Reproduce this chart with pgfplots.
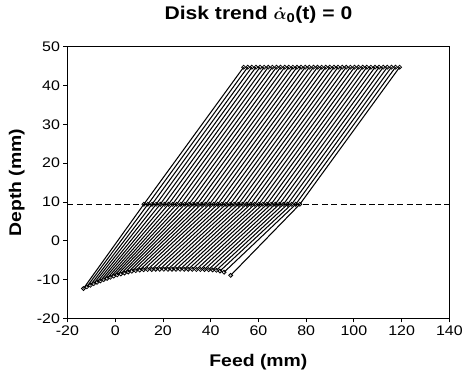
\documentclass[border=0pt]{standalone}
\usepackage{fontspec}
\setmainfont{Liberation Sans}[FakeStretch=1.15]
\usepackage{amsmath}
\usepackage{pgfplots}
\pgfplotsset{compat=1.18}
\begin{document}
\begin{tikzpicture}
\begin{axis}[
  name=ax,
  scale only axis, width=385pt, height=274pt,
  xmin=-20, xmax=140, ymin=-20, ymax=50,
  xtick={-20,0,20,40,60,80,100,120,140},
  ytick={-20,-10,0,10,20,30,40,50},
  tick pos=left, tick align=outside, major tick length=4pt,
  axis line style={line width=0.9pt},
  tick style={black, line width=0.8pt},
  ticklabel style={font=\fontsize{14}{14}\selectfont},
  /pgf/number format/assume math mode=true,
  xlabel={\bfseries Feed (mm)},
  ylabel={\bfseries Depth (mm)},
  xlabel style={font=\fontsize{17}{17}\selectfont, at={(axis description cs:0.5,-0.1606)}, anchor=center},
  ylabel style={font=\fontsize{17}{17}\selectfont, at={(axis description cs:-0.1325,0.5)}, anchor=center},
  title={\bfseries Disk trend $\boldsymbol{\dot{\alpha}}$\textsubscript{0}(t) = 0},
  title style={font=\fontsize{18.5}{18.5}\selectfont, at={(axis description cs:0.5,1.095)}, anchor=center},
  unbounded coords=jump,
]
\addplot[black, line width=1pt, dash pattern=on 6pt off 3.5pt] coordinates {(-20,9.4) (140,9.4)};
\addplot[black, line width=1.05pt, mark=o, mark size=2pt,
  mark options={fill=white, line width=0.8pt, solid}] coordinates {
(-13.3,-12.3) (12.00,9.4) (53.80,44.7) (nan,nan)
(-11.85,-11.85) (13.72,9.4) (55.52,44.7) (nan,nan)
(-10.4,-11.45) (15.44,9.4) (57.24,44.7) (nan,nan)
(-9.0,-11.05) (17.16,9.4) (58.96,44.7) (nan,nan)
(-7.6,-10.7) (18.88,9.4) (60.68,44.7) (nan,nan)
(-6.2,-10.35) (20.60,9.4) (62.40,44.7) (nan,nan)
(-4.8,-10.0) (22.32,9.4) (64.12,44.7) (nan,nan)
(-3.4,-9.7) (24.04,9.4) (65.84,44.7) (nan,nan)
(-2.0,-9.4) (25.76,9.4) (67.56,44.7) (nan,nan)
(-0.6,-9.1) (27.48,9.4) (69.28,44.7) (nan,nan)
(0.85,-8.8) (29.20,9.4) (71.00,44.7) (nan,nan)
(2.35,-8.55) (30.92,9.4) (72.72,44.7) (nan,nan)
(3.9,-8.3) (32.64,9.4) (74.44,44.7) (nan,nan)
(5.45,-8.05) (34.36,9.4) (76.16,44.7) (nan,nan)
(7.0,-7.85) (36.08,9.4) (77.88,44.7) (nan,nan)
(8.6,-7.7) (37.80,9.4) (79.60,44.7) (nan,nan)
(10.25,-7.55) (39.52,9.4) (81.32,44.7) (nan,nan)
(11.9,-7.45) (41.24,9.4) (83.04,44.7) (nan,nan)
(13.6,-7.4) (42.96,9.4) (84.76,44.7) (nan,nan)
(15.3,-7.4) (44.68,9.4) (86.48,44.7) (nan,nan)
(17.0,-7.35) (46.40,9.4) (88.20,44.7) (nan,nan)
(18.7,-7.35) (48.12,9.4) (89.92,44.7) (nan,nan)
(20.4,-7.35) (49.84,9.4) (91.64,44.7) (nan,nan)
(22.1,-7.35) (51.56,9.4) (93.36,44.7) (nan,nan)
(23.8,-7.35) (53.28,9.4) (95.08,44.7) (nan,nan)
(25.5,-7.35) (55.00,9.4) (96.80,44.7) (nan,nan)
(27.2,-7.35) (56.72,9.4) (98.52,44.7) (nan,nan)
(28.9,-7.35) (58.44,9.4) (100.24,44.7) (nan,nan)
(30.6,-7.35) (60.16,9.4) (101.96,44.7) (nan,nan)
(32.3,-7.35) (61.88,9.4) (103.68,44.7) (nan,nan)
(34.0,-7.4) (63.60,9.4) (105.40,44.7) (nan,nan)
(35.7,-7.4) (65.32,9.4) (107.12,44.7) (nan,nan)
(37.4,-7.4) (67.04,9.4) (108.84,44.7) (nan,nan)
(39.1,-7.45) (68.76,9.4) (110.56,44.7) (nan,nan)
(40.8,-7.5) (70.48,9.4) (112.28,44.7) (nan,nan)
(42.4,-7.6) (72.20,9.4) (114.00,44.7) (nan,nan)
(43.9,-7.8) (73.92,9.4) (115.72,44.7) (nan,nan)
(45.6,-8.1) (75.64,9.4) (117.44,44.7) (nan,nan)
(48.4,-8.9) (77.36,9.4) (119.16,44.7)
};
\end{axis}
\path ([xshift=-68pt,yshift=-64pt]ax.south west) rectangle ([xshift=13pt,yshift=47pt]ax.north east);
\end{tikzpicture}
\end{document}
